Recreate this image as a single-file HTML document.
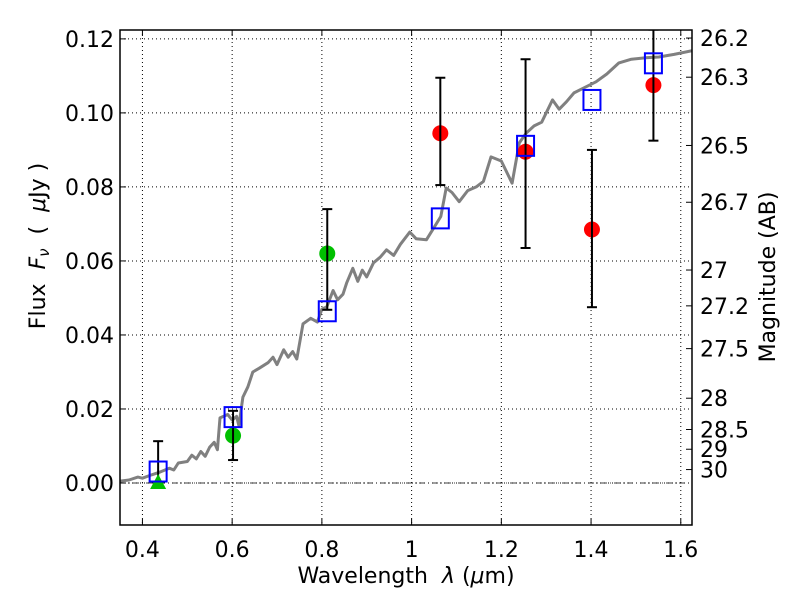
<!DOCTYPE html>
<html><head><meta charset="utf-8"><style>
body{margin:0;background:#fff}
svg text{font-family:"DejaVu Sans","Liberation Sans",sans-serif;fill:#000}
</style></head><body>
<svg id="chart" width="800" height="600" viewBox="0 0 800 600" xmlns="http://www.w3.org/2000/svg">
<rect width="800" height="600" fill="#fff"/>
<g id="grid"></g>
<g id="marks"></g>
<g id="axes"></g>
<text x="406" y="583" font-size="22" text-anchor="middle" xml:space="preserve">Wavelength  <tspan font-style="italic">λ</tspan> (<tspan font-style="italic">μ</tspan>m)</text>
<text transform="translate(45,246) rotate(-90)" font-size="22" text-anchor="middle" xml:space="preserve">Flux  <tspan font-style="italic">F</tspan><tspan font-style="italic" font-size="15" dy="4">ν</tspan><tspan dy="-4">  (  </tspan><tspan font-style="italic">μ</tspan>Jy )</text>
<text transform="translate(775,277) rotate(-90)" font-size="22" text-anchor="middle">Magnitude (AB)</text>
</svg>
<script>
const xTicks=[0.4,0.6,0.8,1.0,1.2,1.4,1.6];
const xTickLabels=["0.4","0.6","0.8","1","1.2","1.4","1.6"];
const yTicks=[0,0.02,0.04,0.06,0.08,0.10,0.12];
const yTickLabels=["0.00","0.02","0.04","0.06","0.08","0.10","0.12"];
const magTicks=[26.2,26.3,26.5,26.7,27,27.2,27.5,28,28.5,29,30];
const magTickLabels=["26.2","26.3","26.5","26.7","27","27.2","27.5","28","28.5","29","30"];
const specX=[0.35,0.37,0.39,0.40,0.42,0.44,0.46,0.47,0.48,0.50,0.51,0.52,0.53,0.54,0.55,0.56,0.567,0.573,0.59,0.60,0.61,0.615,0.624,0.635,0.646,0.66,0.68,0.691,0.70,0.715,0.725,0.735,0.744,0.758,0.775,0.79,0.80,0.811,0.825,0.835,0.847,0.855,0.869,0.88,0.89,0.90,0.915,0.93,0.944,0.96,0.975,0.996,1.01,1.033,1.05,1.065,1.077,1.09,1.106,1.125,1.144,1.16,1.177,1.20,1.224,1.24,1.255,1.273,1.29,1.314,1.329,1.345,1.362,1.385,1.411,1.435,1.462,1.49,1.522,1.551,1.585,1.625];
const specY=[0.0005,0.0008,0.0016,0.0013,0.0022,0.0030,0.0040,0.0035,0.0054,0.0058,0.0075,0.0065,0.0085,0.0072,0.0097,0.0110,0.0090,0.0176,0.0185,0.0170,0.0180,0.0155,0.0232,0.0260,0.0300,0.0310,0.0325,0.0340,0.0320,0.0360,0.0340,0.0355,0.0335,0.0430,0.0445,0.0435,0.0470,0.0476,0.0520,0.0495,0.0510,0.0540,0.0580,0.0545,0.0575,0.0557,0.0595,0.0610,0.0630,0.0615,0.0645,0.0678,0.0660,0.0657,0.0690,0.0720,0.0797,0.0785,0.0760,0.0790,0.0800,0.0815,0.0881,0.0870,0.0810,0.0919,0.0945,0.0965,0.0975,0.1035,0.1010,0.1030,0.1054,0.1068,0.1084,0.1105,0.1135,0.1145,0.1149,0.1151,0.1158,0.1168];
const modelX=[0.435,0.602,0.812,1.064,1.254,1.402,1.539];
const modelY=[0.0031,0.0178,0.0464,0.0715,0.0911,0.1035,0.1134];
const greenX=[0.602,0.812];
const greenY=[0.0128,0.062];
const greenLo=[0.0062,0.0468];
const greenHi=[0.0195,0.074];
const triX=[0.435];
const triY=[0.0];
const triLo=[0.0];
const triHi=[0.0113];
const redX=[1.064,1.254,1.402,1.539];
const redY=[0.0945,0.0895,0.0685,0.1075];
const redLo=[0.0805,0.0635,0.0475,0.0925];
const redHi=[0.1095,0.1145,0.09,0.1225];

const L=120,R=692,T=30,B=525,X0=0.35,X1=1.625,Y0=-0.01135,Y1=0.1224;
const sx=v=>L+(v-X0)/(X1-X0)*(R-L);
const sy=v=>B-(v-Y0)/(Y1-Y0)*(B-T);
const NS="http://www.w3.org/2000/svg";
function mk(p,t,a){const e=document.createElementNS(NS,t);for(const k in a)e.setAttribute(k,a[k]);p.appendChild(e);return e;}
const grid=document.getElementById('grid'),marks=document.getElementById('marks'),axes=document.getElementById('axes');
xTicks.forEach((v,i)=>{
 const g=mk(grid,'line',{x1:sx(v),x2:sx(v),y1:T,y2:B,stroke:'#000','stroke-width':1,'stroke-dasharray':'1,3'});
 
 
 mk(axes,'line',{x1:sx(v),x2:sx(v),y1:B,y2:B-6,stroke:'#000'});
 mk(axes,'line',{x1:sx(v),x2:sx(v),y1:T,y2:T+6,stroke:'#000'});
 const t=mk(axes,'text',{x:sx(v),y:B+32,'font-size':22,'text-anchor':'middle'});t.textContent=xTickLabels[i];
 
 
});
yTicks.forEach((v,i)=>{
 const g=mk(grid,'line',{x1:L,x2:R,y1:sy(v),y2:sy(v),stroke:'#000','stroke-width':1,'stroke-dasharray':'1,3'});
 
 
 mk(axes,'line',{x1:L,x2:L+6,y1:sy(v),y2:sy(v),stroke:'#000'});
 const t=mk(axes,'text',{x:L-6,y:sy(v)+8,'font-size':22,'text-anchor':'end'});t.textContent=yTickLabels[i];
 
 
});
magTicks.forEach((m,i)=>{
 const f=Math.pow(10,(23.9-m)/2.5);const y=sy(f);
 mk(axes,'line',{x1:R,x2:R-6,y1:y,y2:y,stroke:'#000'});
 const t=mk(axes,'text',{x:R+8,y:y+8,'font-size':22});t.textContent=magTickLabels[i];
 
 
});
const clip=mk(marks,'clipPath',{id:'pc'});mk(clip,'rect',{x:L,y:T,width:R-L,height:B-T});
const mg=mk(marks,'g',{'clip-path':'url(#pc)'});
const zero=mk(mg,'line',{x1:L,x2:R,y1:sy(0),y2:sy(0),stroke:'#000','stroke-dasharray':'6,3,1,3','stroke-width':0.8});


const sp=mk(mg,'path',{d:specX.map((x,i)=>(i?'L':'M')+sx(x).toFixed(1)+','+sy(specY[i]).toFixed(1)).join(''),fill:'none',stroke:'#808080','stroke-width':3,'stroke-linejoin':'round'});


function err(x,lo,hi){const X=sx(x);
 mk(mg,'line',{x1:X,x2:X,y1:sy(lo),y2:sy(hi),stroke:'#000','stroke-width':2});
 [lo,hi].forEach(v=>mk(mg,'line',{x1:X-5,x2:X+5,y1:sy(v),y2:sy(v),stroke:'#000','stroke-width':2}));}
triX.forEach((x,i)=>{err(x,triLo[i],triHi[i]);
 const X=sx(x),Y=sy(triY[i]);
 const p=mk(mg,'polygon',{points:`${X},${Y-9} ${X-8},${Y+6} ${X+8},${Y+6}`,fill:'#00c000'});
 
 });
greenX.forEach((x,i)=>{
 const c=mk(mg,'circle',{cx:sx(x),cy:sy(greenY[i]),r:8,fill:'#00c000'});
 
 
 err(x,greenLo[i],greenHi[i]);});
redX.forEach((x,i)=>{
 const c=mk(mg,'circle',{cx:sx(x),cy:sy(redY[i]),r:8,fill:'#ff0000'});
 
 
 err(x,redLo[i],redHi[i]);});
modelX.forEach((x,i)=>{
 const r=mk(mg,'rect',{x:sx(x)-8.5,y:sy(modelY[i])-10,width:17,height:20,fill:'none',stroke:'#0000ff','stroke-width':2});
 
 });
const fr=mk(axes,'rect',{x:L,y:T,width:R-L,height:B-T,fill:'none',stroke:'#000','stroke-width':1.5});


</script>
</body></html>
